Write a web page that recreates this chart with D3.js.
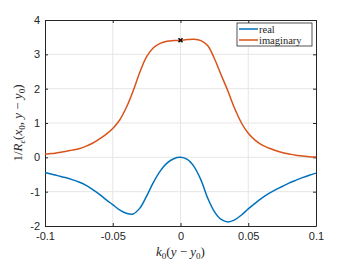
<!DOCTYPE html>
<html>
<head>
<meta charset="utf-8">
<script src="https://cdn.jsdelivr.net/npm/d3@7"></script>
<style>
  body { margin: 0; background: #fff; }
  .tick text { font-family: "Liberation Sans", Arial, sans-serif; font-size: 11px; fill: #262626; }
  .lbl { font-family: "Liberation Serif", "Times New Roman", serif; fill: #262626; }
</style>
</head>
<body>
<div id="chart"></div>
<script>
// values
var xs = [-0.100, -0.095, -0.090, -0.085, -0.080, -0.075, -0.070, -0.065, -0.060, -0.055,
          -0.050, -0.045, -0.040, -0.035, -0.030, -0.025, -0.020, -0.015, -0.010, -0.005,
           0.000,  0.005,  0.010,  0.015,  0.020,  0.025,  0.030,  0.035,  0.040,  0.045,
           0.050,  0.055,  0.060,  0.065,  0.070,  0.075,  0.080,  0.085,  0.090,  0.095, 0.100];

var realVals = [-0.44, -0.49, -0.54, -0.59, -0.65, -0.72, -0.81, -0.93, -1.07, -1.23,
                -1.38, -1.53, -1.63, -1.65, -1.48, -1.13, -0.73, -0.40, -0.17, -0.04,
                 0.00, -0.06, -0.27, -0.65, -1.18, -1.58, -1.81, -1.88, -1.82, -1.68,
                -1.50, -1.34, -1.19, -1.06, -0.95, -0.85, -0.75, -0.67, -0.59, -0.52, -0.46];

var imagVals = [0.09, 0.11, 0.14, 0.17, 0.21, 0.25, 0.32, 0.41, 0.53, 0.67,
                0.84, 1.08, 1.45, 1.93, 2.48, 2.93, 3.19, 3.32, 3.38, 3.40,
                3.41, 3.43, 3.44, 3.40, 3.26, 2.88, 2.40, 1.93, 1.42, 1.00,
                0.70, 0.50, 0.36, 0.27, 0.20, 0.14, 0.10, 0.06, 0.04, 0.02, 0.01];

var seriesNames = ["real", "imaginary"];
var seriesColors = ["#0072BD", "#D95319"];
var marker = [0, 3.41];

var xTicks = [-0.1, -0.05, 0, 0.05, 0.1];
var yTicks = [-2, -1, 0, 1, 2, 3, 4];

var W = 349, H = 262;
var m = {left: 45, right: 33, top: 20, bottom: 36};

var svg = d3.select("#chart").append("svg")
    .attr("width", W)
    .attr("height", H);

var x = d3.scaleLinear().domain([-0.1, 0.1]).range([m.left, W - m.right]);
var y = d3.scaleLinear().domain([-2, 4]).range([H - m.bottom, m.top]);

// grid
svg.append("g").selectAll("line")
  .data(xTicks.slice(1, -1))
  .enter().append("line")
    .attr("x1", function(d) { return x(d); })
    .attr("x2", function(d) { return x(d); })
    .attr("y1", y(-2))
    .attr("y2", y(4))
    .attr("stroke", "#e6e6e6");
svg.append("g").selectAll("line")
  .data(yTicks.slice(1, -1))
  .enter().append("line")
    .attr("x1", x(-0.1))
    .attr("x2", x(0.1))
    .attr("y1", function(d) { return y(d); })
    .attr("y2", function(d) { return y(d); })
    .attr("stroke", "#e6e6e6");

// axes
var fmt = function(d) { return d === 0 ? "0" : String(d); };
var gx = svg.append("g")
    .attr("transform", "translate(0," + y(-2) + ")")
    .call(d3.axisBottom(x).tickValues(xTicks).tickFormat(fmt).tickSizeInner(-3).tickSizeOuter(0).tickPadding(7));
var gy = svg.append("g")
    .attr("transform", "translate(" + x(-0.1) + ",0)")
    .call(d3.axisLeft(y).tickValues(yTicks).tickFormat(fmt).tickSizeInner(-3).tickSizeOuter(0).tickPadding(5));
svg.append("g")
    .attr("transform", "translate(0," + y(4) + ")")
    .call(d3.axisTop(x).tickValues(xTicks).tickFormat("").tickSizeInner(-3).tickSizeOuter(0));
svg.append("g")
    .attr("transform", "translate(" + x(0.1) + ",0)")
    .call(d3.axisRight(y).tickValues(yTicks).tickFormat("").tickSizeInner(-3).tickSizeOuter(0));
svg.selectAll(".domain, .tick line").attr("stroke", "#262626");
gx.selectAll(".tick text").attr("dy", "0.6em");

// lines
var line = d3.line()
    .x(function(d) { return x(d[0]); })
    .y(function(d) { return y(d[1]); })
    .curve(d3.curveCatmullRom.alpha(0.5));

[realVals, imagVals].forEach(function(vals, i) {
  svg.append("path")
    .datum(xs.map(function(v, j) { return [v, vals[j]]; }))
    .attr("fill", "none")
    .attr("stroke", seriesColors[i])
    .attr("stroke-width", 1.5)
    .attr("d", line);
});

// marker
var mx = x(marker[0]), my = y(marker[1]);
svg.append("path")
    .attr("d", "M" + (mx - 2) + "," + (my - 2) + "L" + (mx + 2) + "," + (my + 2) +
               "M" + (mx - 2) + "," + (my + 2) + "L" + (mx + 2) + "," + (my - 2))
    .attr("stroke", "#000")
    .attr("stroke-width", 1.5);

// legend
var lg = svg.append("g").attr("transform", "translate(237,23)");
lg.append("rect")
    .attr("width", 75).attr("height", 23)
    .attr("fill", "#fff").attr("stroke", "#262626").attr("stroke-width", 0.8);
seriesNames.forEach(function(n, i) {
  lg.append("line")
    .attr("x1", 2).attr("x2", 21)
    .attr("y1", 6 + i * 11).attr("y2", 6 + i * 11)
    .attr("stroke", seriesColors[i]).attr("stroke-width", 1.5);
  lg.append("text")
    .attr("class", "lbl")
    .attr("x", 22).attr("y", 9.5 + i * 11)
    .attr("font-size", "10.5px")
    .text(n);
});

// axis labels
var xl = svg.append("text")
    .attr("class", "lbl")
    .attr("x", x(0)).attr("y", 256)
    .attr("text-anchor", "middle")
    .attr("font-size", "13px");
xl.append("tspan").attr("font-style", "italic").text("k");
xl.append("tspan").attr("font-size", "9px").attr("dy", 3).text("0");
xl.append("tspan").attr("dy", -3).text("(");
xl.append("tspan").attr("font-style", "italic").text("y");
xl.append("tspan").text(" \u2212 ");
xl.append("tspan").attr("font-style", "italic").text("y");
xl.append("tspan").attr("font-size", "9px").attr("dy", 3).text("0");
xl.append("tspan").attr("dy", -3).text(")");

var yl = svg.append("text")
    .attr("class", "lbl")
    .attr("transform", "translate(22," + ((y(4) + y(-2)) / 2) + ") rotate(-90)")
    .attr("text-anchor", "middle")
    .attr("font-size", "13px");
yl.append("tspan").text("1/");
yl.append("tspan").attr("font-style", "italic").text("R");
yl.append("tspan").attr("font-size", "9px").attr("font-style", "italic").attr("dy", 3).text("\u03b5");
yl.append("tspan").attr("dy", -3).text("(");
yl.append("tspan").attr("font-style", "italic").text("x");
yl.append("tspan").attr("font-size", "9px").attr("dy", 3).text("0");
yl.append("tspan").attr("dy", -3).text(", ");
yl.append("tspan").attr("font-style", "italic").text("y");
yl.append("tspan").text(" \u2212 ");
yl.append("tspan").attr("font-style", "italic").text("y");
yl.append("tspan").attr("font-size", "9px").attr("dy", 3).text("0");
yl.append("tspan").attr("dy", -3).text(")");
</script>
</body>
</html>
